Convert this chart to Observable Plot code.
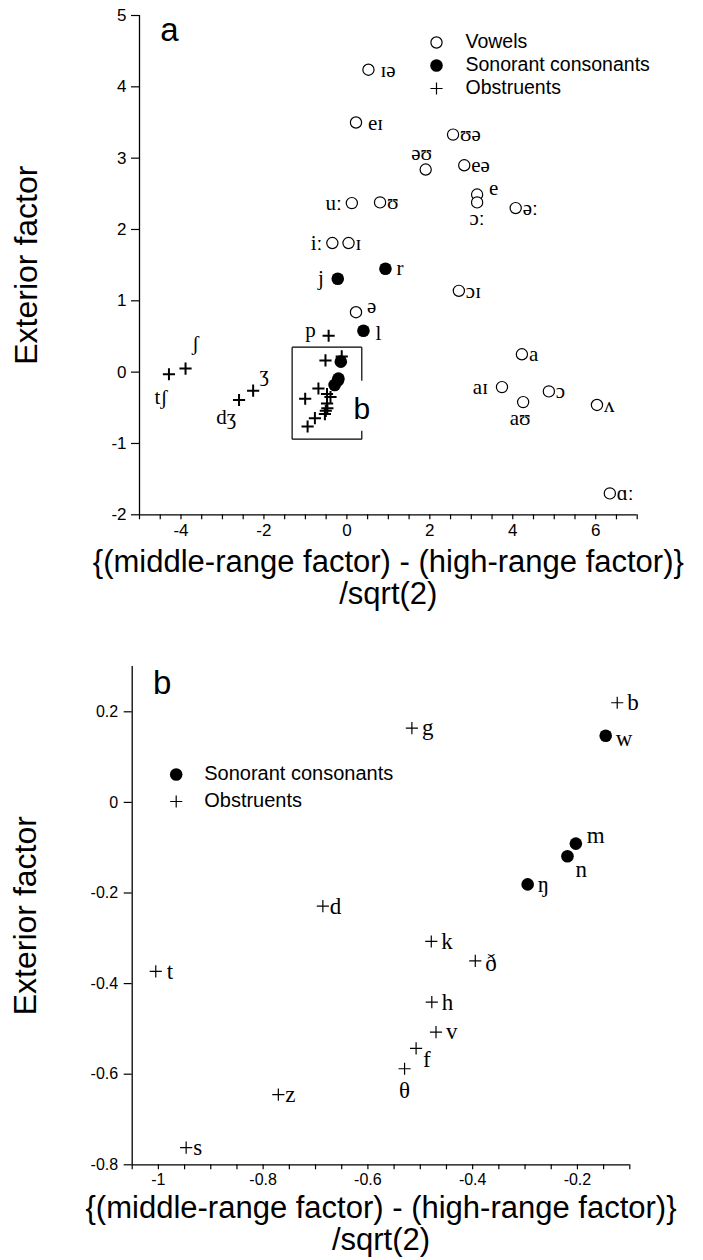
<!DOCTYPE html>
<html><head><meta charset="utf-8">
<script src="https://cdn.jsdelivr.net/npm/d3@7"></script>
<script src="https://cdn.jsdelivr.net/npm/@observablehq/plot@0.6"></script>
<style>body{margin:0;background:#fff}svg{display:block}</style>
</head><body><div id="chart"></div>
<script>
// ---- data ----
const vowelLabels = ["ɪə","eɪ","ʊə","əʊ","eə","e","ɔː","əː","ʊ","uː","ɪ","iː","ɔɪ","a","aɪ","aʊ","ɔ","ʌ","ɑː","ə"];
const vowelX = [0.52,0.22,2.56,1.90,2.83,3.14,3.14,4.07,0.80,0.12,0.04,-0.35,2.70,4.22,3.74,4.25,4.87,6.03,6.34,0.22];
const vowelY = [4.24,3.50,3.33,2.84,2.90,2.49,2.38,2.30,2.38,2.37,1.81,1.81,1.14,0.25,-0.21,-0.42,-0.27,-0.46,-1.70,0.84];

const sonorantLabels = ["j","r","l","w","m","n","ŋ"];
const sonorantX = [-0.22,0.93,0.40,-0.146,-0.203,-0.219,-0.295];
const sonorantY = [1.31,1.45,0.58,0.147,-0.091,-0.119,-0.181];

const obstruentLabels = ["p","ʃ","tʃ","ʒ","dʒ","b","g","d","t","z","s","k","ð","h","v","f","θ"];
const obstruentX = [-0.44,-3.89,-4.29,-2.26,-2.60,-0.124,-0.516,-0.686,-1.005,-0.771,-0.947,-0.479,-0.395,-0.478,-0.470,-0.508,-0.530];
const obstruentY = [0.51,0.05,-0.03,-0.26,-0.39,0.220,0.164,-0.229,-0.373,-0.645,-0.762,-0.307,-0.350,-0.441,-0.507,-0.543,-0.588];

// consonants shown (labelled) in panel b
const panelBLabels = ["b","g","w","m","n","ŋ","d","t","z","s","k","ð","h","v","f","θ"];

// panel a inset box (x range, y range, break in right edge)
const boxX = [-1.32, 0.36];
const boxY = [-0.94, 0.35];
const boxGap = [-0.82, -0.12];

const legendA = ["Vowels","Sonorant consonants","Obstruents"];
const legendB = ["Sonorant consonants","Obstruents"];
const xTitle = ["{(middle-range factor) - (high-range factor)}", "/sqrt(2)"];
const yTitle = "Exterior factor";

// ---- build ----
const SANS = "'Liberation Sans', Arial, Helvetica, sans-serif";
const SERIF = "'Liberation Serif', 'DejaVu Serif', 'Times New Roman', serif";
const rows = (labels, xs, ys) => labels.map((label, i) => ({label, x: xs[i], y: ys[i]}));
const vowels = rows(vowelLabels, vowelX, vowelY);
const sonorants = rows(sonorantLabels, sonorantX, sonorantY);
const obstruents = rows(obstruentLabels, obstruentX, obstruentY);

// label placements: [dx, dy, anchor]
const placeA = {
  "ɪə":[12,1,"start"], "eɪ":[12,1,"start"], "əʊ":[-4,-16,"middle"], "e":[12,-6,"start"],
  "ɔː":[0,16,"middle"], "uː":[-10,0,"end"], "iː":[-10,0,"end"], "aɪ":[-14,0,"end"],
  "aʊ":[-3,16,"middle"], "ə":[11,-6,"start"], "j":[-14,0,"end"], "r":[11,0,"start"],
  "l":[12,2,"start"], "p":[-13,-5,"end"], "ʃ":[10,-25,"middle"], "tʃ":[-8,23,"middle"],
  "ʒ":[11,-16,"middle"], "dʒ":[-13,17,"middle"]
};
const defA = [7,0,"start"];
const placeB = {
  "w":[10,3,"start"], "m":[11,-8,"start"], "n":[8,13,"start"], "ð":[10,3,"start"],
  "f":[7,11,"start"], "θ":[0,22,"middle"], "t":[11,0,"start"], "d":[7,0,"start"],
  "z":[7,0,"start"], "s":[7,0,"start"]
};
const defB = [10,0,"start"];

function labelMarks(data, place, def, fontSize) {
  return data.map(d => {
    const [dx, dy, anchor] = place[d.label] || def;
    return Plot.text([d], {x: "x", y: "y", text: "label", dx, dy, textAnchor: anchor,
      fontFamily: SERIF, fontSize, fill: "black"});
  });
}

const inB = d => panelBLabels.includes(d.label);

function titles(yDx, d1, d2) {
  return [
    Plot.text([yTitle], {frameAnchor: "left", dx: yDx, rotate: -90, textAnchor: "middle", lineAnchor: "middle",
      fontFamily: SANS, fontSize: 32, fill: "black"}),
    Plot.text([xTitle[0]], {frameAnchor: "bottom", dy: d1, lineAnchor: "middle", textAnchor: "middle",
      fontFamily: SANS, fontSize: 31, fill: "black"}),
    Plot.text([xTitle[1]], {frameAnchor: "bottom", dy: d2, lineAnchor: "middle", textAnchor: "middle",
      fontFamily: SANS, fontSize: 31, fill: "black"})
  ];
}

// ---- panel a ----
const segs = [
  {x1: boxX[0], y1: boxY[1], x2: boxX[1], y2: boxY[1]},
  {x1: boxX[0], y1: boxY[0], x2: boxX[1], y2: boxY[0]},
  {x1: boxX[0], y1: boxY[0], x2: boxX[0], y2: boxY[1]},
  {x1: boxX[1], y1: boxGap[1], x2: boxX[1], y2: boxY[1]},
  {x1: boxX[1], y1: boxY[0], x2: boxX[1], y2: boxGap[0]}
];

const plotA = Plot.plot({
  width: 703, height: 620,
  marginLeft: 139, marginRight: 66.3, marginTop: 15, marginBottom: 105.7,
  x: {domain: [-5, 7]}, y: {domain: [-2, 5]},
  style: {fontFamily: SANS, fontSize: "17px", color: "black", background: "white"},
  marks: [
    Plot.ruleX([-5], {stroke: "black", strokeWidth: 1.3}),
    Plot.ruleY([-2], {stroke: "black", strokeWidth: 1.3}),
    Plot.axisX(d3.range(-5, 7.001, 0.5), {anchor: "bottom", tickSize: 5, tickPadding: 4, label: null,
      strokeWidth: 1.2, tickFormat: d => (d % 2 === 0 && d > -5) ? String(d) : ""}),
    Plot.axisY(d3.range(-2, 5.001, 1), {anchor: "left", tickSize: 8, tickPadding: 5, label: null,
      strokeWidth: 1.2, tickFormat: d => String(d)}),
    Plot.link(segs, {x1: "x1", y1: "y1", x2: "x2", y2: "y2", stroke: "black", strokeWidth: 1.2}),
    Plot.text(["b"], {x: () => boxX[1], y: () => (boxGap[0] + boxGap[1]) / 2, dy: 4,
      fontFamily: SANS, fontSize: 30, fill: "black"}),
    Plot.dot(obstruents, {x: "x", y: "y", symbol: "plus", r: 4, stroke: "black", strokeWidth: 2}),
    Plot.dot(vowels, {x: "x", y: "y", symbol: "circle", r: 5.6, stroke: "black", fill: "white", strokeWidth: 1.2}),
    Plot.dot(sonorants, {x: "x", y: "y", symbol: "circle", r: 6.3, fill: "black", stroke: "none"}),
    ...labelMarks([...vowels, ...sonorants, ...obstruents].filter(d => !inB(d)), placeA, defA, 21),
    Plot.text(["a"], {frameAnchor: "top-left", dx: 30, dy: 15, lineAnchor: "middle", textAnchor: "middle",
      fontFamily: SANS, fontSize: 33, fill: "black"}),
    // legend
    Plot.dot([0], {frameAnchor: "top-left", dx: 297, dy: 27, symbol: "circle", r: 5.6, stroke: "black", fill: "white", strokeWidth: 1.2}),
    Plot.dot([0], {frameAnchor: "top-left", dx: 297, dy: 50, symbol: "circle", r: 6.3, fill: "black"}),
    Plot.dot([0], {frameAnchor: "top-left", dx: 297, dy: 73, symbol: "plus", r: 4, stroke: "black", strokeWidth: 1.2}),
    ...legendA.map((t, i) => Plot.text([t], {frameAnchor: "top-left", dx: 326, dy: 26 + 23 * i,
      textAnchor: "start", lineAnchor: "middle", fontFamily: SANS, fontSize: 19.5, fill: "black"})),
    ...titles(-113, 47, 79)
  ]
});

// ---- panel b ----
const bData = [...sonorants, ...obstruents].filter(inB);
const plotB = Plot.plot({
  width: 703, height: 640,
  marginLeft: 131.7, marginRight: 73.7, marginTop: 46, marginBottom: 95.7,
  x: {domain: [-1.05, -0.1]}, y: {domain: [-0.8, 0.3]},
  style: {fontFamily: SANS, fontSize: "16px", color: "black", background: "white"},
  marks: [
    Plot.ruleX([-1.05], {stroke: "black", strokeWidth: 1.3}),
    Plot.ruleY([-0.8], {stroke: "black", strokeWidth: 1.3}),
    Plot.axisX(d3.range(-105, -9, 5).map(d => d / 100), {anchor: "bottom", tickSize: 5, tickPadding: 4, label: null,
      strokeWidth: 1.2, tickFormat: d => [-100, -80, -60, -40, -20].includes(Math.round(d * 100)) ? String(d) : ""}),
    Plot.axisY(d3.range(-8, 3, 2).map(d => d / 10), {anchor: "left", tickSize: 8, tickPadding: 6, label: null,
      strokeWidth: 1.2, tickFormat: d => String(d)}),
    Plot.dot(bData.filter(d => obstruentLabels.includes(d.label)), {x: "x", y: "y", symbol: "plus", r: 4, stroke: "black", strokeWidth: 1.2}),
    Plot.dot(bData.filter(d => sonorantLabels.includes(d.label)), {x: "x", y: "y", symbol: "circle", r: 6.3, fill: "black"}),
    ...labelMarks(bData, placeB, defB, 23),
    Plot.text(["b"], {frameAnchor: "top-left", dx: 30, dy: 17, lineAnchor: "middle", textAnchor: "middle",
      fontFamily: SANS, fontSize: 33, fill: "black"}),
    Plot.dot([0], {frameAnchor: "top-left", dx: 44, dy: 108, symbol: "circle", r: 6.3, fill: "black"}),
    Plot.dot([0], {frameAnchor: "top-left", dx: 44, dy: 135, symbol: "plus", r: 4, stroke: "black", strokeWidth: 1.2}),
    ...legendB.map((t, i) => Plot.text([t], {frameAnchor: "top-left", dx: 72, dy: 107 + 27 * i,
      textAnchor: "start", lineAnchor: "middle", fontFamily: SANS, fontSize: 20, fill: "black"})),
    ...titles(-106, 43, 75)
  ]
});

const root = document.getElementById("chart");
root.appendChild(plotA);
root.appendChild(plotB);
</script>
</body></html>
